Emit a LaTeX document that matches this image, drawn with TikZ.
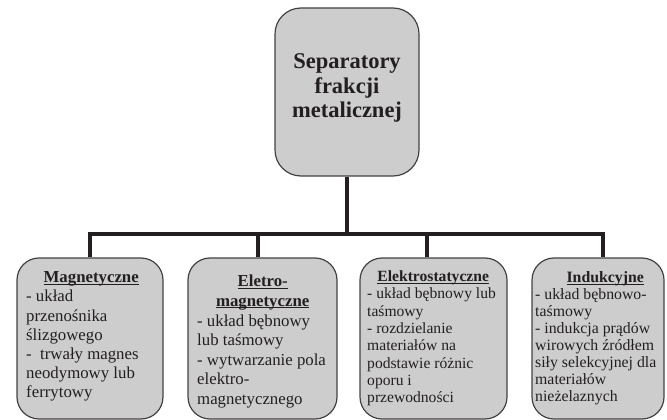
\documentclass[tikz,border=0pt]{standalone}
\usepackage{fontspec}
\setmainfont{Liberation Serif}
\definecolor{boxfill}{RGB}{205,205,205}
\definecolor{ink}{RGB}{35,31,32}
\newsavebox\ttlbox
\newcommand\boxtitle[2]{\sbox\ttlbox{\textbf{#2}}\hbox to #1pt{\hss\rlap{\rule[-1.8pt]{\wd\ttlbox}{0.8pt}}\usebox\ttlbox\hss}}
\begin{document}
\begin{tikzpicture}[x=1pt,y=-1pt,
  box/.style={draw=ink!85, fill=boxfill, line width=1.2pt, rounded corners=22pt, inner sep=0pt},
  conn/.style={draw=ink, line width=4pt, line cap=butt, line join=miter},
  body/.style={inner sep=0pt, anchor=north west, align=left, text=ink}
]
\useasboundingbox (0,0) rectangle (667,420);
% top box
\node[box, rounded corners=26pt, minimum width=144pt, minimum height=168pt, inner sep=0pt]
      (top) at (347,92) {};
\node[font=\bfseries\fontsize{22.5}{24.5}\selectfont, align=center, text=ink, inner sep=0pt]
      (toptext) at (347,88) {Separatory\\frakcji\\metalicznej};
% bottom boxes
\node[box, minimum width=146pt, minimum height=161pt] (b1) at (90,338.5) {};
\node[box, minimum width=149pt, minimum height=161pt] (b2) at (262.5,338.5) {};
\node[box, minimum width=147pt, minimum height=161pt] (b3) at (433.5,338.5) {};
\node[box, minimum width=132pt, minimum height=161pt] (b4) at (598,338.5) {};
% texts
\node[body, font=\fontsize{16.8}{19.2}\selectfont] (t1) at (26,271.5)
  {\boxtitle{130}{Magnetyczne}\\- układ\\przenośnika\\ślizgowego\\-\ \ trwały magnes\\neodymowy lub\\ferrytowy};
\node[body, font=\fontsize{16.8}{19.6}\selectfont] (t2) at (197,275)
  {\boxtitle{131}{Eletro-}\\\boxtitle{131}{magnetyczne}\\- układ bębnowy\\lub taśmowy\\- wytwarzanie pola\\elektro-\\magnetycznego};
\node[body, font=\fontsize{15.6}{17.3}\selectfont] (t3) at (367,270.5)
  {\boxtitle{132}{Elektrostatyczne}\\- układ bębnowy lub\\taśmowy\\- rozdzielanie\\materiałów na\\podstawie różnic\\oporu i\\przewodności};
\node[body, font=\fontsize{15.8}{17.0}\selectfont] (t4) at (535,271.5)
  {\boxtitle{140}{Indukcyjne}\\- układ bębnowo-\\taśmowy\\- indukcja prądów\\wirowych źródłem\\siły selekcyjnej dla\\materiałów\\nieżelaznych};
% connectors
\coordinate (bus) at (347,234);
\coordinate (k1) at (b1.north);
\coordinate (k2) at ([xshift=-4.5pt]b2.north);
\coordinate (k3) at ([xshift=-6.5pt]b3.north);
\coordinate (k4) at ([xshift=5pt]b4.north);
\draw[conn] (top.south) -- (top.south |- bus);
\draw[conn] (k1) -- (k1 |- bus) -- (k4 |- bus) -- (k4);
\draw[conn] (k2) -- (k2 |- bus);
\draw[conn] (k3) -- (k3 |- bus);
\end{tikzpicture}
\end{document}
